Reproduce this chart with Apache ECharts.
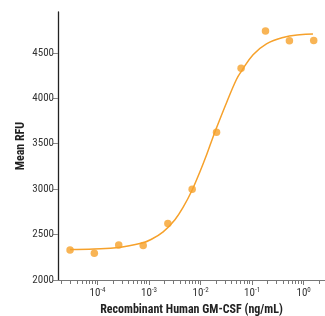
<!DOCTYPE html>
<html>
<head>
<meta charset="utf-8">
<script src="https://cdn.jsdelivr.net/npm/echarts@6/dist/echarts.min.js"></script>
<style>
  html, body { margin: 0; padding: 0; background: #fff; }
  #chart { width: 325px; height: 316px; }
</style>
</head>
<body>
<div id="chart"></div>
<script>
// measured points (ng/mL, Mean RFU)
const doseX = [2.93e-5, 8.67e-5, 2.58e-4, 7.7e-4, 2.32e-3, 6.87e-3, 0.0204, 0.0612, 0.182, 0.53, 1.57];
const rfuY = [2331, 2294, 2386, 2379, 2622, 3000, 3626, 4332, 4740, 4633, 4636];

// fitted curve
const fitX = [2.93e-5, 8.55e-5, 2.58e-4, 7.62e-4, 1.04e-3, 1.88e-3, 3.18e-3, 4.6e-3, 6.87e-3, 9.68e-3,
  1.31e-2, 1.63e-2, 2.04e-2, 3.19e-2, 4.99e-2, 6.24e-2, 0.1045, 0.19, 0.399, 0.839, 1.52];
const fitY = [2337, 2342, 2358, 2410, 2440, 2530, 2664, 2801, 2991, 3189,
  3379, 3527, 3675, 3952, 4210, 4300, 4480, 4600, 4670, 4700, 4707];

const majorTicks = [1e-4, 1e-3, 1e-2, 1e-1, 1];
const minorTicks = [];
[1e-5, 1e-4, 1e-3, 1e-2, 1e-1, 1].forEach((d) => {
  for (let k = 2; k <= 9; k++) minorTicks.push(d * k);
});

const orange = "#f6a12b";
const font = "'Roboto Condensed', 'Noto Sans Condensed', 'Liberation Sans Narrow', 'DejaVu Sans Condensed', 'Noto Sans', sans-serif";
const xMin = 1.71e-5, xMax = 2.6;

const chart = echarts.init(document.getElementById("chart"));
const option = {
  animation: false,
  grid: { left: 58, right: 0, top: 12, bottom: 36, outerBoundsMode: "none" },
  xAxis: [
    {
      type: "log",
      logBase: 10,
      min: xMin,
      max: xMax,
      name: "Recombinant Human GM-CSF (ng/mL)",
      nameLocation: "middle",
      nameGap: 24,
      nameMoveOverlap: false,
      nameTextStyle: { fontFamily: font, fontWeight: "bold condensed", fontSize: 12, color: "#222" },
      axisLine: { lineStyle: { color: "#777", width: 1.2 } },
      axisTick: { customValues: majorTicks, length: 5, lineStyle: { color: "#777" } },
      axisLabel: {
        customValues: majorTicks,
        margin: 7,
        formatter: (v) => "10{s|" + Math.round(Math.log10(v)) + "}",
        rich: {
          s: { fontSize: 7, fontFamily: font, fontWeight: "normal condensed", color: "#333", verticalAlign: "top", padding: [0, 0, 6, 0] },
        },
        fontFamily: font,
        fontWeight: "normal condensed",
        fontSize: 11,
        color: "#333",
      },
      splitLine: { show: false },
    },
    {
      type: "log",
      logBase: 10,
      min: xMin,
      max: xMax,
      position: "bottom",
      axisLine: { show: false },
      axisTick: { customValues: minorTicks, length: 4, lineStyle: { color: "#777" } },
      axisLabel: { show: false },
      splitLine: { show: false },
    },
  ],
  yAxis: {
    type: "value",
    min: 2000,
    max: 4950,
    interval: 500,
    name: "Mean RFU",
    nameLocation: "middle",
    nameGap: 31,
    nameMoveOverlap: false,
    nameTextStyle: { fontFamily: font, fontWeight: "bold condensed", fontSize: 12, color: "#222" },
    axisLine: { show: true, lineStyle: { color: "#222", width: 1.3 } },
    axisTick: { show: true, length: 5, lineStyle: { color: "#888" } },
    axisLabel: {
      formatter: (v) => String(v),
      fontFamily: font,
      fontWeight: "normal condensed",
      fontSize: 11,
      color: "#333",
      margin: 4,
      showMaxLabel: false,
    },
    splitLine: { show: false },
  },
  series: [
    {
      type: "line",
      data: fitX.map((x, i) => [x, fitY[i]]),
      smooth: 0.4,
      showSymbol: false,
      lineStyle: { color: orange, width: 1.5 },
      z: 2,
    },
    {
      type: "scatter",
      data: doseX.map((x, i) => [x, rfuY[i]]),
      symbolSize: 7.5,
      itemStyle: { color: orange },
      z: 3,
    },
  ],
};
chart.setOption(option);
</script>
</body>
</html>
